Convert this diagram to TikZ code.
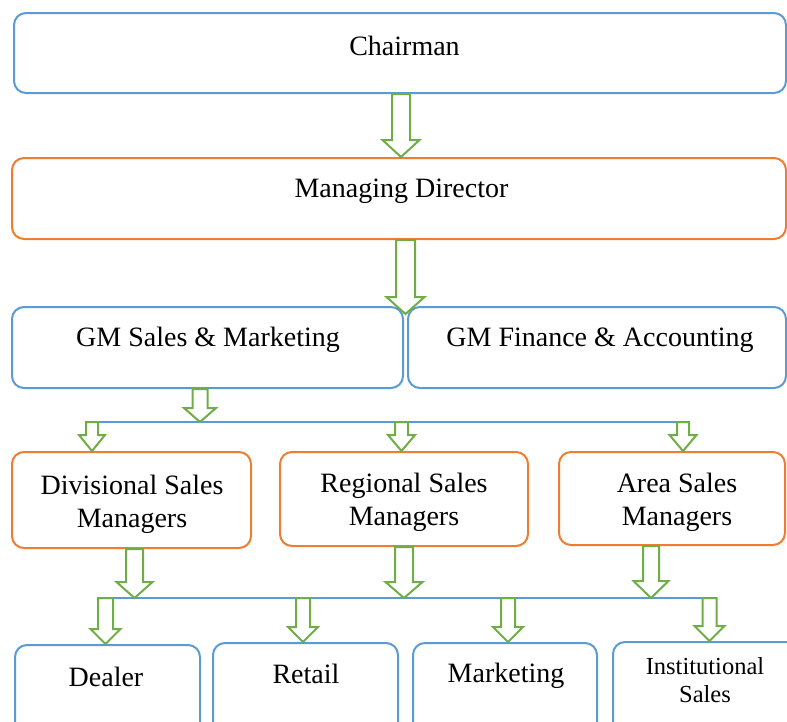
\documentclass[tikz,border=0pt]{standalone}
\usepackage{fontspec}
\setmainfont{Liberation Serif}
\usetikzlibrary{calc}

\definecolor{boxblue}{HTML}{5B9BD5}
\definecolor{boxorange}{HTML}{ED7D31}
\definecolor{arrowgreen}{HTML}{70AD47}

\tikzset{
  box/.style={draw, rounded corners=12pt, line width=2pt, fill=white, inner sep=0pt},
  bluebox/.style={box, draw=boxblue},
  orangebox/.style={box, draw=boxorange},
  bus/.style={draw=boxblue, line width=2pt},
  garrow/.style={draw=arrowgreen, line width=2pt, fill=white, line join=miter},
  lbl/.style={anchor=base, font=\fontsize{28}{34}\selectfont, inner sep=0pt},
  lblsmall/.style={anchor=base, font=\fontsize{24.5}{28}\selectfont, inner sep=0pt},
}

% hollow block arrow: #1 x position, #2 start point, #3 tip point,
% #4 half shaft width, #5 half head width, #6 head length
\newcommand{\blockarrow}[6]{%
  \draw[garrow] let \p1=#2, \p2=#3 in
    ({#1pt-#4pt},\y1) -- ({#1pt+#4pt},\y1) -- ({#1pt+#4pt},{\y2+#6pt})
    -- ({#1pt+#5pt},{\y2+#6pt}) -- (#1pt,\y2) -- ({#1pt-#5pt},{\y2+#6pt})
    -- ({#1pt-#4pt},{\y2+#6pt}) -- cycle;}

\begin{document}
\begin{tikzpicture}[x=1pt, y=-1pt]
  \useasboundingbox (0,0) rectangle (787,721);
  \clip (0,0) rectangle (787,721);

  % boxes
  \node[bluebox,   minimum width=772pt, minimum height=80pt] (chair) at (400,53) {};
  \node[orangebox, minimum width=774pt, minimum height=81pt] (md)    at (399,198.5) {};
  \node[bluebox,   minimum width=391pt, minimum height=81pt] (gms)   at (207.5,347.5) {};
  \node[bluebox,   minimum width=378pt, minimum height=81pt] (gmf)   at (597,347.5) {};
  \node[orangebox, minimum width=239pt, minimum height=96pt] (div)   at (131.5,500) {};
  \node[orangebox, minimum width=248pt, minimum height=94pt] (reg)   at (404,499) {};
  \node[orangebox, minimum width=226pt, minimum height=93pt] (area)  at (672,498.5) {};
  \node[bluebox,   minimum width=185pt, minimum height=100pt] (dealer) at (107.5,695) {};
  \node[bluebox,   minimum width=185pt, minimum height=100pt] (retail) at (305.5,693) {};
  \node[bluebox,   minimum width=184pt, minimum height=100pt] (mkt)    at (505,693) {};
  \node[bluebox,   minimum width=192pt, minimum height=100pt] (inst)   at (709,692) {};

  % distribution lines
  \coordinate (bus1L) at (86,422);
  \coordinate (bus1R) at (689,422);
  \coordinate (bus2L) at (98,598);
  \coordinate (bus2R) at (716,598);
  \draw[bus] (bus1L) -- (bus1R);
  \draw[bus] (bus2L) -- (bus2R);

  % arrows
  \blockarrow{401}{(chair.south)}{(md.north)}{9}{18.5}{17}
  \blockarrow{405.5}{(md.south)}{($(gms.north)+(0,8)$)}{9.5}{19}{17}
  \blockarrow{200}{(gms.south)}{(bus1L)}{7.5}{16}{14}
  \blockarrow{92}{(bus1L)}{(div.north)}{6}{13}{16}
  \blockarrow{401.5}{(bus1L)}{(reg.north)}{6.5}{13.5}{16}
  \blockarrow{683}{(bus1L)}{(area.north)}{6}{13.5}{16}
  \blockarrow{134.5}{(div.south)}{(bus2L)}{8.5}{18}{16}
  \blockarrow{404}{(reg.south)}{(bus2L)}{9}{18.5}{16}
  \blockarrow{651}{(area.south)}{(bus2L)}{8}{17.5}{17}
  \blockarrow{105.5}{(bus2L)}{(dealer.north)}{7.5}{15}{15}
  \blockarrow{303}{(bus2L)}{(retail.north)}{7}{15}{15}
  \blockarrow{508}{(bus2L)}{(mkt.north)}{7}{15}{15}
  \blockarrow{709.5}{(bus2L)}{(inst.north)}{7}{15}{15}

  % labels
  \node[lbl] (tchair) at (404.5,55) {Chairman};
  \node[lbl] (tmd)    at (401.5,197) {Managing Director};
  \node[lbl] (tgms)   at (208,346) {GM Sales \& Marketing};
  \node[lbl] (tgmf)   at (600,346) {GM Finance \& Accounting};
  \node[lbl] (tdiv1)  at (132,494) {Divisional Sales};
  \node[lbl] (tdiv2)  at (132,527) {Managers};
  \node[lbl] (treg1)  at (404,492) {Regional Sales};
  \node[lbl] (treg2)  at (404,525) {Managers};
  \node[lbl] (tarea1) at (677,492) {Area Sales};
  \node[lbl] (tarea2) at (677,525) {Managers};
  \node[lbl] (tdealer) at (106,686) {Dealer};
  \node[lbl] (tretail) at (306,683) {Retail};
  \node[lbl] (tmkt)    at (506,682) {Marketing};
  \node[lblsmall] (tinst1) at (705,674) {Institutional};
  \node[lblsmall] (tinst2) at (705,702) {Sales};
\end{tikzpicture}
\end{document}
